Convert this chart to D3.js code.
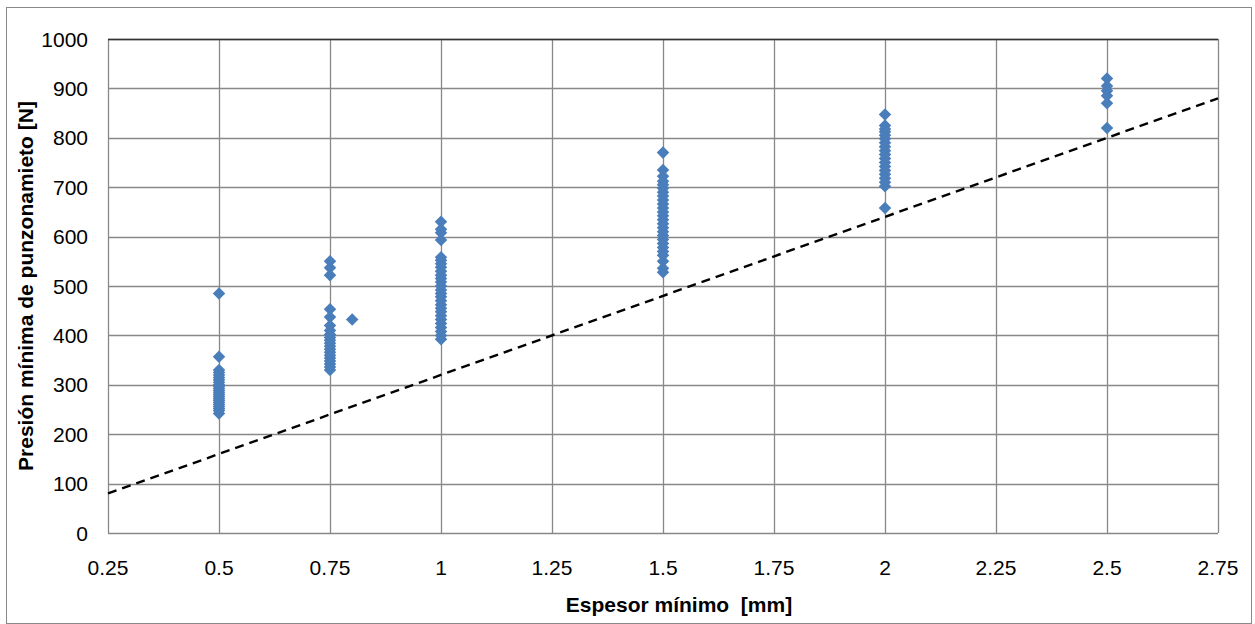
<!DOCTYPE html>
<html>
<head>
<meta charset="utf-8">
<script src="https://cdn.jsdelivr.net/npm/d3@7"></script>
<style>
  body { margin: 0; background: #fff; }
  svg { display: block; font-family: "Liberation Sans", Arial, sans-serif; }
</style>
</head>
<body>
<svg width="1255" height="624"></svg>
<script>
// thickness groups and measured punching pressure (N)
const thickness = [0.5, 0.75, 0.8, 1, 1.5, 2, 2.5];
const pressures = [
  [485, 357, 330, 325, 320, 315, 310, 305, 300, 296, 292, 288, 284, 280, 276, 272, 268, 264, 260, 256, 252, 248, 242],
  [550, 537, 522, 453, 437, 420, 410, 402, 396, 390, 384, 378, 372, 366, 360, 354, 348, 342, 336, 330],
  [432],
  [630, 615, 608, 593, 558, 552, 545, 538, 530, 522, 515, 508, 500, 492, 485, 478, 470, 462, 455, 448, 440, 432, 424, 416, 408, 400, 392],
  [770, 735, 722, 712, 705, 698, 690, 682, 674, 666, 658, 650, 642, 634, 626, 618, 610, 602, 594, 586, 578, 570, 562, 550, 536, 528],
  [847, 825, 818, 812, 805, 798, 790, 782, 774, 766, 758, 750, 742, 734, 726, 718, 710, 702, 658],
  [920, 905, 895, 885, 870, 820]
];
// minimum pressure line (N)
const lineX = [0.25, 2.75];
const lineY = [80, 880];

const xTicks = [0.25, 0.5, 0.75, 1, 1.25, 1.5, 1.75, 2, 2.25, 2.5, 2.75];
const yTicks = [0, 100, 200, 300, 400, 500, 600, 700, 800, 900, 1000];

const svg = d3.select("svg");
const PLOT = { left: 108, right: 1218, top: 39, bottom: 533 };

const x = d3.scaleLinear().domain([0.25, 2.75]).range([PLOT.left, PLOT.right]);
const y = d3.scaleLinear().domain([0, 1000]).range([PLOT.bottom, PLOT.top]);

// outer chart border
svg.append("rect")
  .attr("x", 6.5).attr("y", 7.5)
  .attr("width", 1245).attr("height", 616)
  .attr("fill", "none")
  .attr("stroke", "#898989");

// grid
svg.append("g")
  .selectAll("line")
  .data(xTicks)
  .join("line")
  .attr("x1", (d) => Math.round(x(d)) + 0.5)
  .attr("x2", (d) => Math.round(x(d)) + 0.5)
  .attr("y1", PLOT.top).attr("y2", PLOT.bottom)
  .attr("stroke", "#888")
  .attr("stroke-width", 1.3);

svg.append("g")
  .selectAll("line")
  .data(yTicks)
  .join("line")
  .attr("x1", PLOT.left).attr("x2", PLOT.right)
  .attr("y1", (d) => Math.round(y(d)) + 0.5)
  .attr("y2", (d) => Math.round(y(d)) + 0.5)
  .attr("stroke", "#888")
  .attr("stroke-width", 1.3);

// plot border top
svg.append("line")
  .attr("x1", PLOT.left).attr("x2", PLOT.right)
  .attr("y1", Math.round(y(1000)) + 0.5).attr("y2", Math.round(y(1000)) + 0.5)
  .attr("stroke", "#333").attr("stroke-width", 1.3);

// tick labels
svg.append("g")
  .selectAll("text")
  .data(yTicks)
  .join("text")
  .attr("x", PLOT.left - 20)
  .attr("y", (d) => y(d) + 7.5)
  .attr("text-anchor", "end")
  .attr("font-size", 21)
  .attr("fill", "#000")
  .text((d) => d);

svg.append("g")
  .selectAll("text")
  .data(xTicks)
  .join("text")
  .attr("x", (d) => x(d))
  .attr("y", PLOT.bottom + 42)
  .attr("text-anchor", "middle")
  .attr("font-size", 21)
  .attr("fill", "#000")
  .text((d) => d);

// dashed reference line
svg.append("line")
  .attr("x1", x(lineX[0])).attr("y1", y(lineY[0]))
  .attr("x2", x(lineX[1])).attr("y2", y(lineY[1]))
  .attr("stroke", "#000")
  .attr("stroke-width", 2.4)
  .attr("stroke-dasharray", "9,6");

// points
const points = thickness.flatMap((t, i) => pressures[i].map((p) => ({ t, p })));
const diamond = d3.symbol().type(d3.symbolDiamond2).size(100);

svg.append("g")
  .selectAll("path")
  .data(points)
  .join("path")
  .attr("transform", (d) => `translate(${x(d.t)},${y(d.p)})`)
  .attr("d", diamond)
  .attr("fill", "#4a7ebb");

// axis titles
svg.append("text")
  .attr("x", 679)
  .attr("y", 612)
  .attr("text-anchor", "middle")
  .attr("font-size", 21)
  .attr("font-weight", "bold")
  .style("white-space", "pre")
  .text("Espesor mínimo  [mm]");

svg.append("text")
  .attr("transform", `translate(33,${(PLOT.top + PLOT.bottom) / 2}) rotate(-90)`)
  .attr("text-anchor", "middle")
  .attr("font-size", 21)
  .attr("font-weight", "bold")
  .text("Presión mínima de punzonamieto [N]");
</script>
</body>
</html>
